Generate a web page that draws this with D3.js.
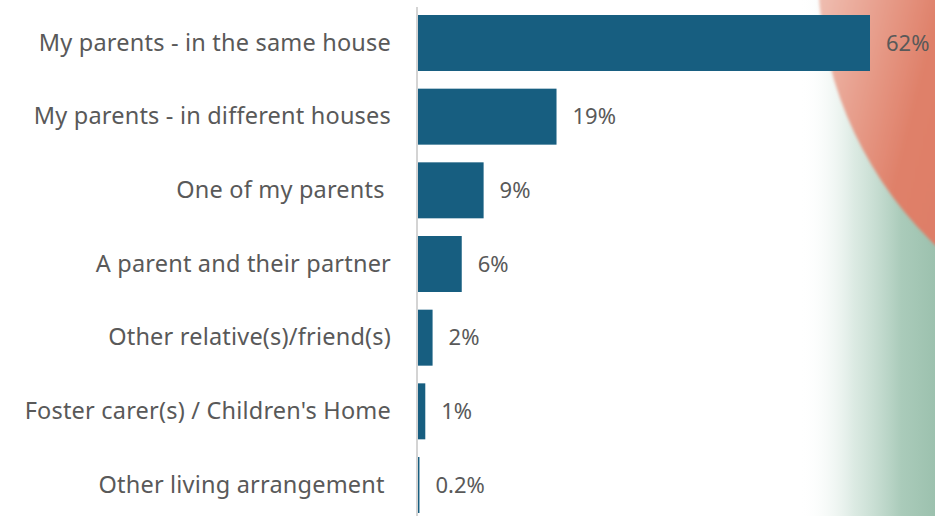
<!DOCTYPE html>
<html>
<head>
<meta charset="utf-8">
<script src="https://cdn.jsdelivr.net/npm/d3@7/dist/d3.min.js"></script>
<style>
  html, body { margin: 0; padding: 0; background: #ffffff; }
  svg { display: block; }
  text { font-family: "Noto Sans", "Open Sans", sans-serif; fill: #595959; white-space: pre; }
</style>
</head>
<body>
<svg id="chart" width="935" height="516"></svg>
<script>
// Living arrangements (share of respondents, %)
const categories = [
  "My parents - in the same house",
  "My parents - in different houses",
  "One of my parents ",
  "A parent and their partner",
  "Other relative(s)/friend(s)",
  "Foster carer(s) / Children's Home",
  "Other living arrangement "
];
const values = [62, 19, 9, 6, 2, 1, 0.2];
const valueLabels = ["62%", "19%", "9%", "6%", "2%", "1%", "0.2%"];

const W = 935, H = 516;
const svg = d3.select("#chart");
const defs = svg.append("defs");

// Decorative backdrop on the right edge: mint wash and a salmon disc
const mint = defs.append("linearGradient").attr("id", "mint")
  .attr("x1", 0).attr("y1", 0).attr("x2", 1).attr("y2", 0);
mint.append("stop").attr("offset", "0%").attr("stop-color", "#ffffff").attr("stop-opacity", 0);
mint.append("stop").attr("offset", "40%").attr("stop-color", "#d3e5dc").attr("stop-opacity", 0.8);
mint.append("stop").attr("offset", "75%").attr("stop-color", "#aacbba").attr("stop-opacity", 1);
mint.append("stop").attr("offset", "100%").attr("stop-color", "#9cc1ae").attr("stop-opacity", 1);

const salmon = defs.append("linearGradient").attr("id", "salmon")
  .attr("x1", 0).attr("y1", 0).attr("x2", 1).attr("y2", 0.25);
salmon.append("stop").attr("offset", "0%").attr("stop-color", "#fbeae6");
salmon.append("stop").attr("offset", "10%").attr("stop-color", "#f2c9be");
salmon.append("stop").attr("offset", "28%").attr("stop-color", "#df8069");
salmon.append("stop").attr("offset", "100%").attr("stop-color", "#d8664d");

const soft = defs.append("filter").attr("id", "soft")
  .attr("x", "-10%").attr("y", "-10%").attr("width", "120%").attr("height", "120%");
soft.append("feGaussianBlur").attr("stdDeviation", 1.5);

const deco = svg.append("g");
deco.append("rect").attr("x", 800).attr("y", 0).attr("width", 135).attr("height", H)
  .attr("fill", "url(#mint)");
deco.append("circle").attr("cx", 1200).attr("cy", -30).attr("r", 382)
  .attr("fill", "url(#salmon)").attr("filter", "url(#soft)");

// Scales
const y = d3.scaleBand().domain(categories).range([15, 513]).paddingInner(0.24).paddingOuter(0);
const x = d3.scaleLinear().domain([0, 62]).range([418, 870]);

// Bars
svg.append("g").selectAll("rect").data(values).join("rect")
  .attr("x", x(0))
  .attr("y", (d, i) => y(categories[i]))
  .attr("width", d => x(d) - x(0))
  .attr("height", y.bandwidth())
  .attr("fill", "#175e80");

// Category axis
const axis = svg.append("g").attr("transform", `translate(${x(0) - 1},0)`)
  .call(d3.axisLeft(y).tickSize(0).tickPadding(26));
axis.select(".domain").remove();
axis.selectAll("text")
  .attr("font-size", 23.5)
  .attr("fill", "#5a5a5a")
  .attr("letter-spacing", 0.2)
  .style("font-family", '"Noto Sans", "Open Sans", sans-serif');
svg.append("line")
  .attr("x1", x(0) - 1).attr("x2", x(0) - 1)
  .attr("y1", 7).attr("y2", H)
  .attr("stroke", "#d4d4d4").attr("stroke-width", 2);

// Value labels
svg.append("g").selectAll("text").data(values).join("text")
  .attr("x", d => x(d) + 16)
  .attr("y", (d, i) => y(categories[i]) + y.bandwidth() / 2)
  .attr("dy", "0.35em")
  .attr("font-size", 22)
  .text((d, i) => valueLabels[i]);
</script>
</body>
</html>
